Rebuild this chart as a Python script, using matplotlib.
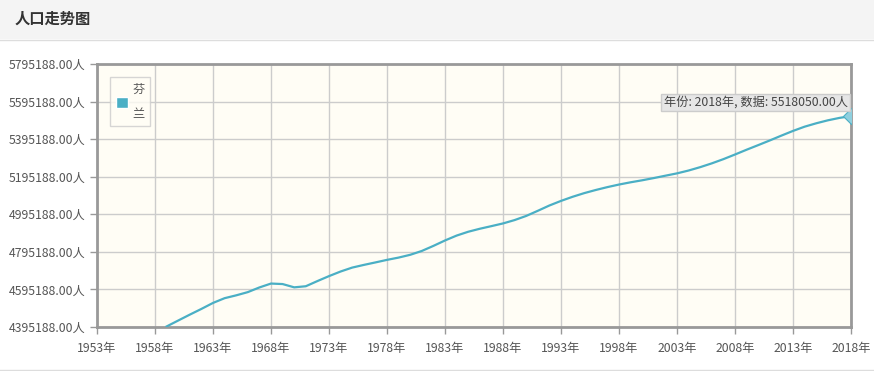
import numpy as np
import matplotlib
matplotlib.use("Agg")
import matplotlib.pyplot as plt
from matplotlib.patches import Rectangle, Patch

plt.rcParams['font.family'] = ['Noto Sans CJK SC', 'DejaVu Sans']

# population data (Finland)
years = list(range(1959, 2019))
population = [4398000,
              4429634, 4461005, 4491443, 4523309, 4548543, 4563732, 4580869, 4605744, 4626469, 4623785,
              4606307, 4612124, 4639657, 4666081, 4690574, 4711440, 4725664, 4738902, 4752528, 4764690,
              4779535, 4799964, 4826933, 4855787, 4881803, 4902206, 4918154, 4932123, 4946481, 4964371,
              4986431, 5013740, 5041992, 5066447, 5088333, 5107790, 5124573, 5139835, 5153498, 5165474,
              5176209, 5188008, 5200598, 5213014, 5228172, 5246096, 5266268, 5288720, 5313399, 5338871,
              5363352, 5388272, 5413971, 5438972, 5461512, 5479531, 5495303, 5508214, 5518050]
x_ticks = list(range(1953, 2019, 5))
y_ticks = [4395188 + 200000 * k for k in range(8)]
series_name = "芬兰"
title = "人口走势图"

W, H = 874, 371
fig = plt.figure(figsize=(W / 100, H / 100), dpi=100)
fig.patch.set_facecolor('white')

# header band
fig.patches.append(Rectangle((0, 1 - 39 / H), 1, 39 / H, transform=fig.transFigure,
                             facecolor='#f4f4f4', edgecolor='none', zorder=0))
fig.lines.append(plt.Line2D([0, 1], [1 - 39.5 / H, 1 - 39.5 / H], transform=fig.transFigure,
                            color='#dddddd', lw=1))
fig.lines.append(plt.Line2D([0, 1], [1.5 / H, 1.5 / H], transform=fig.transFigure,
                            color='#dddddd', lw=1))
fig.text(15 / W, 1 - 19 / H, title, fontsize=11, fontweight='bold', color='#333333',
         va='center', ha='left')

ax = fig.add_axes([97 / W, 44 / H, 754 / W, 263 / H])
ax.set_facecolor('#fffdf5')

line_color = '#4aafc5'
ax.plot(years, population, color=line_color, lw=1.6, zorder=3)
ax.plot([years[-1]], [population[-1]], marker='D', ms=8, color='#8fd0df',
        mec=line_color, mew=0.8, zorder=4, clip_on=True)

ax.set_xlim(1953, 2018)
ax.set_ylim(y_ticks[0], y_ticks[-1])
ax.set_xticks(x_ticks)
ax.set_xticklabels([f"{y}年" for y in x_ticks])
ax.set_yticks(y_ticks)
ax.set_yticklabels([f"{v}.00人" for v in y_ticks])
ax.grid(True, color='#cccccc', lw=1)
ax.set_axisbelow(True)
ax.tick_params(axis='both', colors='#999999', labelcolor='#555555', labelsize=8.8,
               length=5, width=1)
ax.tick_params(axis='x', pad=6)
ax.tick_params(axis='y', pad=3)
for side in ['left', 'bottom', 'right', 'top']:
    ax.spines[side].set_color('#999999')
    ax.spines[side].set_linewidth(2)

# legend
handle = Patch(facecolor=line_color, edgecolor='white', lw=1)
leg = ax.legend([handle], ["芬\n兰"], loc='upper left', bbox_to_anchor=(13 / 754, 1 - 13 / 263),
                fontsize=8.8, frameon=True, fancybox=False, handlelength=1.05, handleheight=1.05,
                handletextpad=0.35, borderpad=0.45, borderaxespad=0, labelcolor='#555555')
leg.get_texts()[0].set_linespacing(2.2)
leg.get_frame().set_edgecolor('#cccccc')
leg.get_frame().set_facecolor('#fffdf5')
leg.get_frame().set_linewidth(1)

# tooltip
ax.text(2017.7, 5595188 - 5000, f"年份: {years[-1]}年, 数据: {population[-1]}.00人",
        fontsize=8.8, color='#444444', ha='right', va='center', zorder=5,
        bbox=dict(boxstyle='square,pad=0.2', facecolor='#e6e6e6', edgecolor='#cccccc', lw=1))

fig.savefig("out.png", dpi=100)
